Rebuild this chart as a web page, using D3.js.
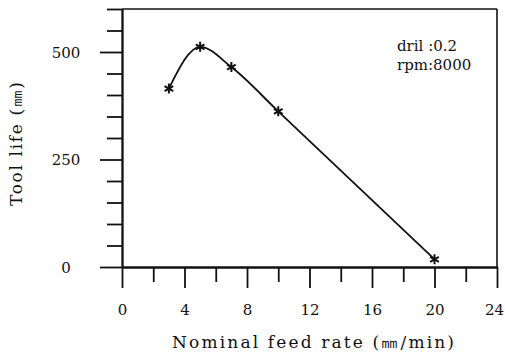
<!DOCTYPE html>
<html>
<head>
<meta charset="utf-8">
<script src="https://cdn.jsdelivr.net/npm/d3@7"></script>
<style>
  html, body { margin: 0; padding: 0; background: #fff; }
  svg { display: block; }
  svg text { font-family: "DejaVu Serif", "Liberation Serif", "Noto Serif", "Times New Roman", Tinos, serif; fill: #111; }
</style>
</head>
<body>
<div id="chart"></div>
<script>
// feed rate (mm/min) vs tool life (mm)
const feedRates = [3, 5, 7, 10, 20];
const toolLife = [415, 512, 465, 362, 18];

const xMajorTicks = [0, 4, 8, 12, 16, 20, 24];
const xMinorTicks = [2, 6, 10, 14, 18, 22];
const yMajorTicks = [0, 250, 500];
const yMinorTicks = [50, 100, 150, 200, 300, 350, 400, 450, 550, 600];

const noteLines = ['dril :0.2', 'rpm:8000'];

const W = 505, H = 358;
const plotLeft = 122, plotRight = 497, plotTop = 9, plotBottom = 267;
const serif = '"DejaVu Serif", "Liberation Serif", "Noto Serif", "Times New Roman", Tinos, serif';

const svg = d3.select('#chart').append('svg')
    .attr('width', W)
    .attr('height', H);

const x = d3.scaleLinear().domain([0, 24]).range([plotLeft, plotRight]);
const y = d3.scaleLinear().domain([0, 600]).range([plotBottom, plotTop]);

const ink = '#111';

// frame: top and right
svg.append('line')
    .attr('x1', plotLeft).attr('x2', plotRight)
    .attr('y1', plotTop).attr('y2', plotTop)
    .attr('stroke', ink).attr('stroke-width', 1.6);
svg.append('line')
    .attr('x1', plotRight).attr('x2', plotRight)
    .attr('y1', plotTop).attr('y2', plotBottom)
    .attr('stroke', ink).attr('stroke-width', 1.6);

function styleAxis(g) {
    g.attr('font-family', serif);
    g.select('.domain').attr('stroke', ink).attr('stroke-width', 1.8);
    g.selectAll('.tick line').attr('stroke', ink).attr('stroke-width', 1.8);
}

// x axis
svg.append('g')
    .attr('transform', `translate(0,${plotBottom})`)
    .call(d3.axisBottom(x).tickValues(xMinorTicks).tickSize(15).tickSizeOuter(0).tickFormat(''))
    .call(styleAxis);
const gx = svg.append('g')
    .attr('transform', `translate(0,${plotBottom})`)
    .call(d3.axisBottom(x).tickValues(xMajorTicks).tickSize(21).tickSizeOuter(0))
    .call(styleAxis);
gx.selectAll('text')
    .attr('y', 48).attr('dy', 0)
    .attr('dx', d => d === 24 ? -3 : 0)
    .style('font-size', '15px')
    .attr('fill', ink);

// y axis
svg.append('g')
    .attr('transform', `translate(${plotLeft},0)`)
    .call(d3.axisLeft(y).tickValues(yMinorTicks).tickSize(15).tickSizeOuter(0).tickFormat(''))
    .call(styleAxis);
const gy = svg.append('g')
    .attr('transform', `translate(${plotLeft},0)`)
    .call(d3.axisLeft(y).tickValues(yMajorTicks).tickSize(22).tickSizeOuter(0))
    .call(styleAxis);
gy.selectAll('text')
    .attr('x', -56).attr('dy', '0.35em')
    .attr('text-anchor', 'middle')
    .style('font-size', '15px')
    .attr('fill', ink);

// axis titles
svg.append('text')
    .attr('x', 313).attr('y', 348)
    .attr('text-anchor', 'middle')
    .attr('textLength', 282)
    .attr('lengthAdjust', 'spacing')
    .style('font-size', '17px')
    .text('Nominal feed rate (㎜/min)');

svg.append('text')
    .attr('transform', 'translate(22,144) rotate(-90)')
    .attr('text-anchor', 'middle')
    .attr('textLength', 124)
    .attr('lengthAdjust', 'spacing')
    .style('font-size', '17px')
    .text('Tool life (㎜)');

// curve
const pts = feedRates.map((f, i) => [f, toolLife[i]]);
const line = d3.line()
    .x(d => x(d[0]))
    .y(d => y(d[1]))
    .curve(d3.curveMonotoneX);

svg.append('path')
    .datum(pts)
    .attr('d', line)
    .attr('fill', 'none')
    .attr('stroke', ink)
    .attr('stroke-width', 1.8);

svg.selectAll('.mark')
    .data(pts)
    .enter()
    .append('path')
    .attr('class', 'mark')
    .attr('transform', d => `translate(${x(d[0])},${y(d[1])})`)
    .attr('d', d3.symbol().type(d3.symbolAsterisk).size(70))
    .attr('fill', 'none')
    .attr('stroke', ink)
    .attr('stroke-width', 2);

// note
svg.selectAll('.note')
    .data(noteLines)
    .enter()
    .append('text')
    .attr('class', 'note')
    .attr('x', 397)
    .attr('y', (d, i) => 51 + i * 19)
    .style('font-size', '15px')
    .text(d => d);
</script>
</body>
</html>
